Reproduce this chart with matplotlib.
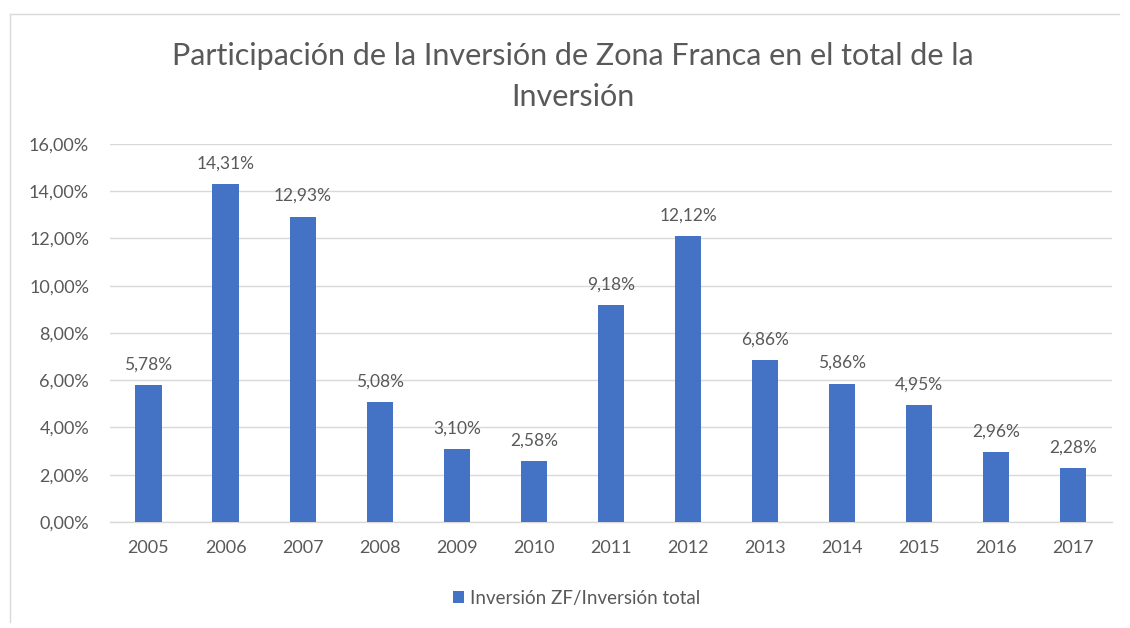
import matplotlib.pyplot as plt
from matplotlib.lines import Line2D
from matplotlib.patches import Patch

plt.rcParams['font.family'] = ['Lato', 'DejaVu Sans']

# Datos
years = ['2005', '2006', '2007', '2008', '2009', '2010', '2011',
         '2012', '2013', '2014', '2015', '2016', '2017']
share = [5.78, 14.31, 12.93, 5.08, 3.10, 2.58, 9.18,
         12.12, 6.86, 5.86, 4.95, 2.96, 2.28]
yticks = [0, 2, 4, 6, 8, 10, 12, 14, 16]
series_name = 'Inversión ZF/Inversión total'
title = 'Participación de la Inversión de Zona Franca en el total de la\nInversión'

bar_color = '#4472C4'
text_color = '#595959'
grid_color = '#D9D9D9'

fig = plt.figure(figsize=(11.3, 6.28), dpi=100)
ax = fig.add_axes([0.0973, 0.1688, 0.8867, 0.6019])

x = list(range(len(years)))
ax.bar(x, share, width=0.34, color=bar_color, zorder=3)

for xi, v in zip(x, share):
    lbl = f'{v:.2f}%'.replace('.', ',')
    ax.annotate(lbl, (xi, v), xytext=(0, 9), textcoords='offset points',
                ha='center', va='bottom', fontsize=12.5, color=text_color)

ax.set_xlim(-0.5, len(years) - 0.5)
ax.set_ylim(0, 16)
ax.set_yticks(yticks)
ax.set_yticklabels([f'{t:.2f}%'.replace('.', ',') for t in yticks])
ax.set_xticks(x)
ax.set_xticklabels(years)
ax.tick_params(axis='both', length=0, labelsize=13, colors=text_color)
ax.tick_params(axis='x', pad=13)
ax.tick_params(axis='y', pad=15)
ax.grid(axis='y', color=grid_color, linewidth=1, zorder=0)
for s in ['top', 'right', 'left']:
    ax.spines[s].set_visible(False)
ax.spines['bottom'].set_color(grid_color)
ax.spines['bottom'].set_linewidth(1)

fig.text(0.507, 0.878, title, ha='center', va='center', fontsize=22,
         color=text_color, linespacing=1.55)

handles = [Patch(facecolor=bar_color, label=series_name)]
fig.legend(handles=handles, loc='center', bbox_to_anchor=(0.51, 0.047),
           frameon=False, fontsize=13.5, labelcolor=text_color,
           handlelength=0.6, handleheight=0.6, handletextpad=0.3)

# borde del gráfico
fig.add_artist(Line2D([0.009, 0.99], [0.978, 0.978], color='#D9D9D9', lw=1))
fig.add_artist(Line2D([0.009, 0.009], [0.978, 0.01], color='#D9D9D9', lw=1))

fig.savefig('out.png', dpi=100, facecolor='white')
